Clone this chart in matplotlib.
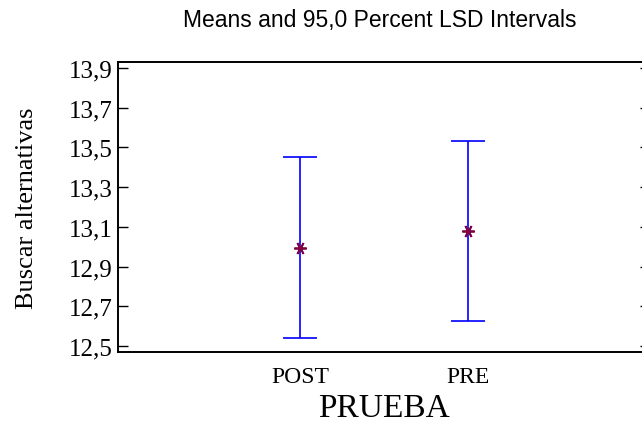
import matplotlib
matplotlib.use("Agg")
import matplotlib.pyplot as plt

# data
categories = ["POST", "PRE"]
means = [12.995, 13.08]
lower = [12.54, 12.626]
upper = [13.45, 13.534]
yticks = [12.5, 12.7, 12.9, 13.1, 13.3, 13.5, 13.7, 13.9]

serif = ["Liberation Serif", "DejaVu Serif"]

fig = plt.figure(figsize=(6.42, 4.31), dpi=100)
ax = fig.add_axes([118 / 642, 1 - 353 / 431, 532 / 642, 290 / 431])

xs = list(range(1, len(categories) + 1))
err_lo = [m - l for m, l in zip(means, lower)]
err_hi = [u - m for m, u in zip(means, upper)]
ax.errorbar(xs, means, yerr=[err_lo, err_hi], fmt="none", ecolor="#0000ff",
            elinewidth=1.2, capsize=12, capthick=1.2)
ax.plot(xs, means, linestyle="none", marker=(6, 2, 90), markersize=9,
        markeredgecolor="#800040", markeredgewidth=1.3)

ax.set_xlim(1 - 182 / 168, len(categories) + 182 / 168)
ax.set_ylim(12.47, 13.93)
ax.set_xticks(xs)
ax.set_xticklabels(categories, family=serif, fontsize=17)
ax.set_yticks(yticks)
ax.set_yticklabels([f"{v:.1f}".replace(".", ",") for v in yticks],
                   family=serif, fontsize=18)
ax.tick_params(axis="x", length=0, pad=10)
ax.tick_params(axis="y", direction="in", length=7, width=1, right=True, pad=4)

for s in ax.spines.values():
    s.set_linewidth(1.4)

ax.set_ylabel("Buscar alternativas", family=serif, fontsize=19, labelpad=22)
ax.set_xlabel("PRUEBA", family=serif, fontsize=24, labelpad=4)

fig.text(380 / 642, 1 - 20 / 431, "Means and 95,0 Percent LSD Intervals",
         ha="center", va="center", family=["Liberation Sans", "DejaVu Sans"],
         fontsize=16.5)

fig.savefig("out.png", dpi=100)
